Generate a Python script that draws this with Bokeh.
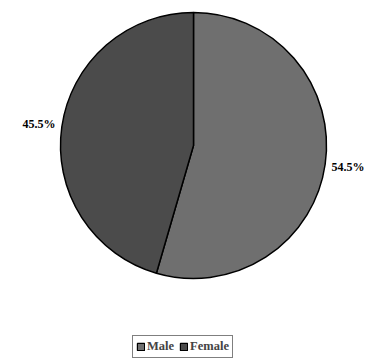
import math
from bokeh.plotting import figure
from bokeh.models import Range1d, Legend, LegendItem, ColumnDataSource
from bokeh.core.properties import value
from bokeh.embed import file_html
from bokeh.resources import INLINE

categories = ["Male", "Female"]
shares = [54.5, 45.5]
labels = ["54.5%", "45.5%"]
colors = ["#6f6f6f", "#4b4b4b"]

W, H = 370, 361
cx, cy, r = 193, H - 145, 133
label_r = 156
FONT = "Times New Roman, Liberation Serif, serif"

starts, ends, lx, ly = [], [], [], []
acc = 0.0
for s in shares:
    a0 = math.pi / 2 - 2 * math.pi * (acc + s) / 100
    a1 = math.pi / 2 - 2 * math.pi * acc / 100
    starts.append(a0)
    ends.append(a1)
    mid = (a0 + a1) / 2
    lx.append(cx + label_r * math.cos(mid))
    ly.append(cy + label_r * math.sin(mid))
    acc += s

src = ColumnDataSource(dict(cat=categories, start=starts, end=ends, color=colors,
                            lx=lx, ly=ly, lab=labels))

p = figure(width=W, height=H, x_range=Range1d(0, W), y_range=Range1d(0, H),
           output_backend="svg", toolbar_location=None, min_border=0)
p.axis.visible = False
p.grid.visible = False
p.outline_line_color = None
p.background_fill_color = "white"
p.border_fill_color = "white"

p.wedge(x=cx, y=cy, radius=r, radius_units="screen", start_angle="start", end_angle="end",
        fill_color="color", line_color="black", line_width=1.5, source=src)

p.text(x="lx", y="ly", text="lab", source=src, text_font=value(FONT),
       text_font_style="bold", text_font_size="12px", text_align="center",
       text_baseline="middle", text_color="black")

items = []
for c, col in zip(categories, colors):
    rr = p.rect(x=[float("nan")], y=[float("nan")], width=1, height=1,
                fill_color=col, line_color="black", line_width=1.2)
    items.append(LegendItem(label=c, renderers=[rr]))

leg = Legend(items=items, orientation="horizontal", location=(132, 3),
             label_text_font=FONT, label_text_font_style="bold",
             label_text_font_size="12.5px", glyph_width=9, glyph_height=9,
             label_standoff=2, spacing=5, padding=3, margin=0,
             border_line_color="black", border_line_width=1,
             background_fill_alpha=1, label_height=11)
p.add_layout(leg, "center")

open("out.html", "w").write(file_html(p, INLINE))
